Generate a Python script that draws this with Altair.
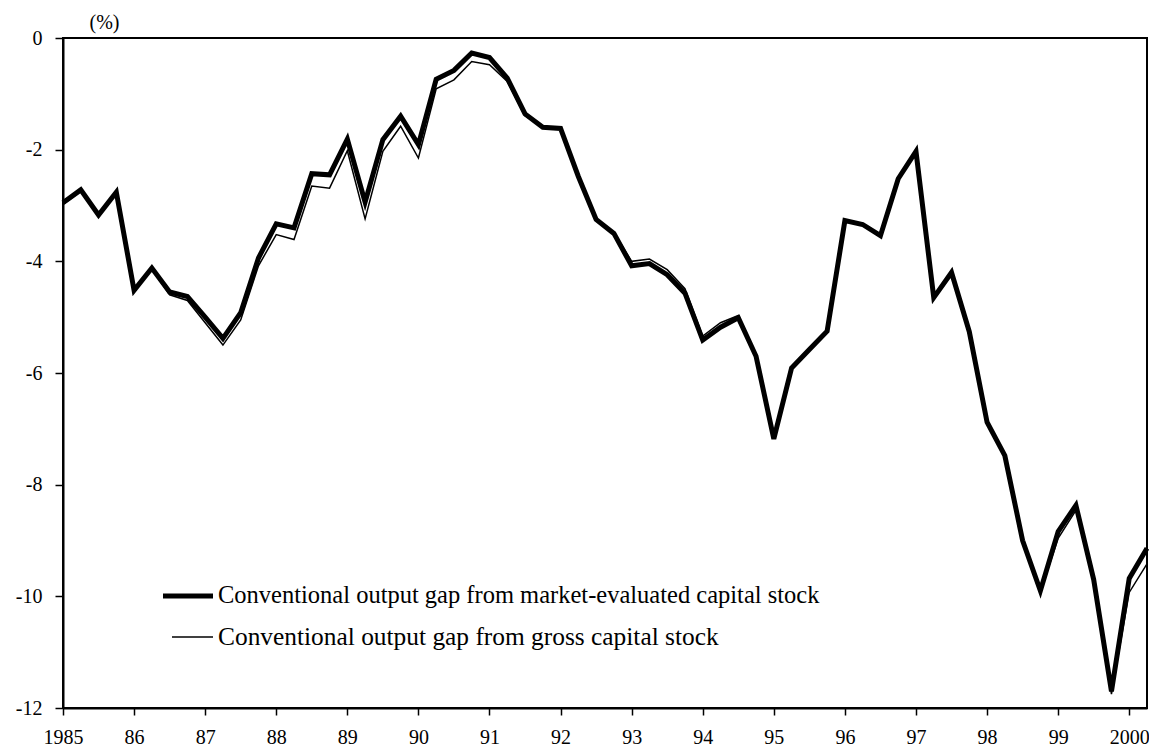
import json
import altair as alt
import pandas as pd

# quarterly observations 1985Q1 .. 2000Q2
years = list(range(1985, 2001))
quarters = [f"{y}Q{q}" for y in years for q in (1, 2, 3, 4)][:62]

market_gap = [
    -2.95, -2.72, -3.17, -2.76, -4.52, -4.12, -4.55, -4.63,
    -5.00, -5.38, -4.92, -3.94, -3.33, -3.40, -2.43, -2.45,
    -1.81, -2.94, -1.82, -1.40, -1.91, -0.74, -0.58, -0.27,
    -0.35, -0.72, -1.36, -1.60, -1.62, -2.48, -3.25, -3.50,
    -4.08, -4.04, -4.24, -4.57, -5.41, -5.18, -5.01, -5.70,
    -7.18, -5.91, -5.58, -5.25, -3.27, -3.34, -3.54, -2.52,
    -2.03, -4.65, -4.20, -5.26, -6.88, -7.48, -9.00, -9.90,
    -8.84, -8.37, -9.70, -11.70, -9.68, -9.14,
]
gross_gap = [
    -2.98, -2.74, -3.18, -2.77, -4.53, -4.13, -4.60, -4.70,
    -5.10, -5.50, -5.05, -4.08, -3.52, -3.61, -2.65, -2.69,
    -2.02, -3.24, -2.03, -1.58, -2.15, -0.91, -0.75, -0.42,
    -0.48, -0.78, -1.39, -1.59, -1.62, -2.48, -3.24, -3.48,
    -4.00, -3.96, -4.15, -4.49, -5.34, -5.10, -4.97, -5.68,
    -7.18, -5.91, -5.58, -5.25, -3.27, -3.34, -3.54, -2.52,
    -2.03, -4.65, -4.20, -5.27, -6.90, -7.50, -9.02, -9.92,
    -8.96, -8.46, -9.72, -11.75, -9.93, -9.42,
]
year_labels = ["1985", "86", "87", "88", "89", "90", "91", "92", "93",
               "94", "95", "96", "97", "98", "99", "2000"]
y_ticks = [-12, -10, -8, -6, -4, -2, 0]
series_names = [
    "Conventional output gap from market-evaluated capital stock",
    "Conventional output gap from gross capital stock",
]

FONT = "Liberation Serif"

df = pd.DataFrame({
    "idx": list(range(len(quarters))) * 2,
    "quarter": quarters * 2,
    "value": market_gap + gross_gap,
    "series": [series_names[0]] * len(quarters) + [series_names[1]] * len(quarters),
})

label_expr = ("datum.value % 4 == 0 ? " + json.dumps(year_labels) +
              "[datum.value / 4] : ''")

x_enc = alt.X(
    "idx:Q",
    scale=alt.Scale(domain=[0, len(quarters) - 1], nice=False, zero=False),
    axis=alt.Axis(
        values=list(range(len(quarters))),
        labelExpr=label_expr,
        title=None,
        grid=False,
        tickSize=7,
        tickWidth=1.5,
        tickColor="black",
        domainColor="black",
        domainWidth=2,
        labelFont=FONT,
        labelFontSize=20,
        labelColor="black",
        labelPadding=12,
        labelOverlap=False,
        labelFlush=False,
    ),
)
y_enc = alt.Y(
    "value:Q",
    scale=alt.Scale(domain=[-12, 0], nice=False),
    axis=alt.Axis(
        values=y_ticks,
        labelExpr="'' + datum.value",
        title="(%)",
        titleAngle=0,
        titleX=41,
        titleY=-16,
        titleAlign="center",
        titleBaseline="middle",
        titleFont=FONT,
        titleFontSize=20,
        titleFontWeight="normal",
        titleColor="black",
        grid=False,
        tickSize=8,
        tickWidth=1.5,
        tickColor="black",
        domainColor="black",
        domainWidth=2,
        labelFont=FONT,
        labelFontSize=20,
        labelColor="black",
        labelPadding=13,
    ),
)

base = alt.Chart(df)
thick = base.transform_filter(alt.datum.series == series_names[0]).mark_line(
    color="black", strokeWidth=5, strokeJoin="miter", strokeMiterLimit=4
).encode(x=x_enc, y=y_enc)
thin = base.transform_filter(alt.datum.series == series_names[1]).mark_line(
    color="black", strokeWidth=1.5
).encode(x="idx:Q", y="value:Q")

leg_df = pd.DataFrame({"name": series_names})
leg_thick = alt.Chart(leg_df).transform_filter(alt.datum.name == series_names[0]).mark_rule(
    color="black", strokeWidth=5
).encode(x=alt.value(100), x2=alt.value(150), y=alt.value(558))
leg_thin = alt.Chart(leg_df).transform_filter(alt.datum.name == series_names[1]).mark_rule(
    color="black", strokeWidth=1.5
).encode(x=alt.value(109), x2=alt.value(150), y=alt.value(599))
leg_text1 = alt.Chart(leg_df).transform_filter(alt.datum.name == series_names[0]).mark_text(
    align="left", baseline="middle", font=FONT, fontSize=24.5, color="black"
).encode(x=alt.value(155), y=alt.value(558), text="name:N")
leg_text2 = alt.Chart(leg_df).transform_filter(alt.datum.name == series_names[1]).mark_text(
    align="left", baseline="middle", font=FONT, fontSize=25.4, color="black"
).encode(x=alt.value(155), y=alt.value(599), text="name:N")

chart = alt.layer(thick, thin, leg_thick, leg_thin, leg_text1, leg_text2).properties(
    width=1084,
    height=670,
    autosize=alt.AutoSizeParams(type="none"),
    padding={"left": 55, "top": 30, "right": 2, "bottom": 40},
    background="white",
).configure_view(
    stroke="black", strokeWidth=2, strokeOpacity=1
)

chart.save("out.html", embed_options={"renderer": "svg", "actions": False})
